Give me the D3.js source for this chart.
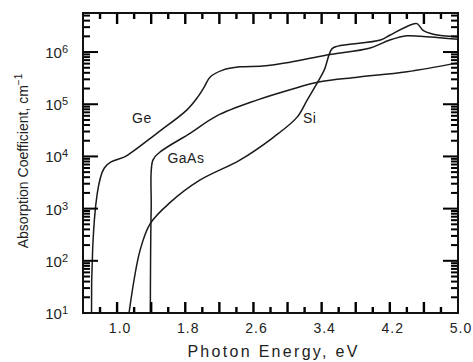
<!DOCTYPE html>
<html>
<head>
<meta charset="utf-8">
<script src="https://cdn.jsdelivr.net/npm/d3@7"></script>
<style>
  body { margin: 0; background: #fff; }
  text { font-family: "Liberation Sans", Arial, sans-serif; fill: #222; }
</style>
</head>
<body>
<div id="plot"></div>
<script>
// data: [photon energy (eV), absorption coefficient (cm^-1)]
var geData = [[0.70, 10], [0.85, 6.0e3], [1.12, 1.05e4], [1.47, 2.8e4],
  [1.82, 7.8e4], [1.95, 1.4e5], [2.02, 2.1e5], [2.09, 3.3e5], [2.24, 4.5e5],
  [2.44, 5.2e5], [2.71, 5.4e5], [3.03, 6.4e5], [3.46, 8.8e5], [3.97, 1.2e6],
  [4.20, 1.7e6], [4.40, 2.05e6], [4.56, 2.0e6], [5.0, 1.75e6]];
var siData = [[1.14, 10], [1.27, 160], [1.39, 520], [1.62, 1.3e3], [1.97, 3.5e3],
  [2.44, 8.5e3], [2.83, 2.3e4], [3.11, 5.6e4], [3.23, 1.2e5], [3.35, 2.6e5],
  [3.43, 4.5e5], [3.52, 1.15e6], [3.59, 1.3e6], [4.09, 1.7e6], [4.20, 2.1e6],
  [4.44, 3.3e6], [4.52, 3.5e6], [4.59, 2.6e6], [4.71, 2.2e6], [5.0, 1.95e6]];
var gaasData = [[1.39, 10], [1.40, 1e3], [1.42, 8.5e3], [1.50, 1.2e4], [1.86, 2.8e4],
  [2.17, 6.0e4], [2.64, 1.2e5], [3.03, 1.9e5], [3.38, 2.7e5], [3.82, 3.3e5],
  [4.40, 4.2e5], [5.0, 6.2e5]];

var xTickLabels = [1.0, 1.8, 2.6, 3.4, 4.2, 5.0];
var xMajorTicks = [1.0, 1.4, 1.8, 2.2, 2.6, 3.0, 3.4, 3.8, 4.2, 4.6];
var xMinorTicks = [0.8, 1.2, 1.6, 2.0, 2.4, 2.8, 3.2, 3.6, 4.0, 4.4, 4.8];
var yTickExps = [1, 2, 3, 4, 5, 6];
var curveLabels = [
  {name: "Ge", e: 1.175, a: 4.4e4},
  {name: "GaAs", e: 1.59, a: 7.4e3},
  {name: "Si", e: 3.18, a: 4.4e4}
];

var margin = {top: 13, right: 15, bottom: 49, left: 83},
    width = 473 - margin.left - margin.right,
    height = 362 - margin.top - margin.bottom;

var svg = d3.select("#plot")
  .append("svg")
    .attr("width", 473)
    .attr("height", 362)
  .append("g")
    .attr("transform", "translate(" + margin.left + "," + margin.top + ")");

var x = d3.scaleLinear().domain([0.6, 5.0]).range([0, width]);
var y = d3.scaleLog().domain([10, 5.6e6]).range([height, 0]);

// curves
var line = d3.line()
  .x(function(d) { return x(d[0]); })
  .y(function(d) { return y(d[1]); })
  .curve(d3.curveCatmullRom.alpha(0.5));

svg.selectAll("myLines")
  .data([geData, siData, gaasData])
  .enter()
  .append("path")
    .attr("d", function(d) { return line(d); })
    .style("fill", "none")
    .style("stroke", "#1a1a1a")
    .style("stroke-width", 1.5);

// y tick values: decades and 2..9 in between
var yMajorTicks = yTickExps.map(function(p) { return Math.pow(10, p); });
var yMinorTicks = [];
yTickExps.forEach(function(p) {
  d3.range(2, 10).forEach(function(m) {
    if (m * Math.pow(10, p) < 5.6e6) yMinorTicks.push(m * Math.pow(10, p));
  });
});

// inward ticks on all four sides
var tickG = svg.append("g").style("fill", "#000");
function xTicks(vals, len) {
  vals.forEach(function(v) {
    tickG.append("rect").attr("x", x(v) - 1.2).attr("y", height - len).attr("width", 2.4).attr("height", len);
    tickG.append("rect").attr("x", x(v) - 1.2).attr("y", 0).attr("width", 2.4).attr("height", len);
  });
}
function yTicks(vals, len) {
  vals.forEach(function(v) {
    tickG.append("rect").attr("x", 0).attr("y", y(v) - 1).attr("width", len).attr("height", 2);
    tickG.append("rect").attr("x", width - len).attr("y", y(v) - 1).attr("width", len).attr("height", 2);
  });
}
xTicks(xMajorTicks, 11);
xTicks(xMinorTicks, 6);
yTicks(yMajorTicks, 15);
yTicks(yMinorTicks, 7);

// frame
svg.append("rect")
  .attr("width", width)
  .attr("height", height)
  .style("fill", "none")
  .style("stroke", "#111")
  .style("stroke-width", 2);

// x tick labels
svg.selectAll("xLabels")
  .data(xTickLabels)
  .enter()
  .append("text")
    .attr("x", function(d) { return x(d) + 3; })
    .attr("y", height + 20)
    .attr("text-anchor", "middle")
    .style("font-size", "14px")
    .style("letter-spacing", "1px")
    .text(function(d) { return d.toFixed(1); });

// y tick labels 10^n
var yl = svg.selectAll("yLabels")
  .data(yTickExps)
  .enter()
  .append("text")
    .attr("x", -15)
    .attr("y", function(d) { return y(Math.pow(10, d)) + 6; })
    .attr("text-anchor", "end")
    .style("font-size", "15px");
yl.append("tspan").text("10");
yl.append("tspan").attr("dy", -5).style("font-size", "11px").text(function(d) { return d; });

// axis titles
svg.append("text")
  .attr("x", width / 2 + 3)
  .attr("y", height + 44)
  .attr("text-anchor", "middle")
  .style("font-size", "16px")
  .style("letter-spacing", "2.3px")
  .text("Photon Energy, eV");

var yt = svg.append("text")
  .attr("transform", "rotate(-90)")
  .attr("x", -height / 2 + 2)
  .attr("y", -55)
  .attr("text-anchor", "middle")
  .style("font-size", "14px");
yt.append("tspan").text("Absorption Coefficient, cm");
yt.append("tspan").attr("dy", -6).style("font-size", "10px").text("\u22121");

// curve names
svg.selectAll("curveNames")
  .data(curveLabels)
  .enter()
  .append("text")
    .attr("x", function(d) { return x(d.e); })
    .attr("y", function(d) { return y(d.a); })
    .style("font-size", "14px")
    .style("letter-spacing", "0.5px")
    .text(function(d) { return d.name; });
</script>
</body>
</html>
